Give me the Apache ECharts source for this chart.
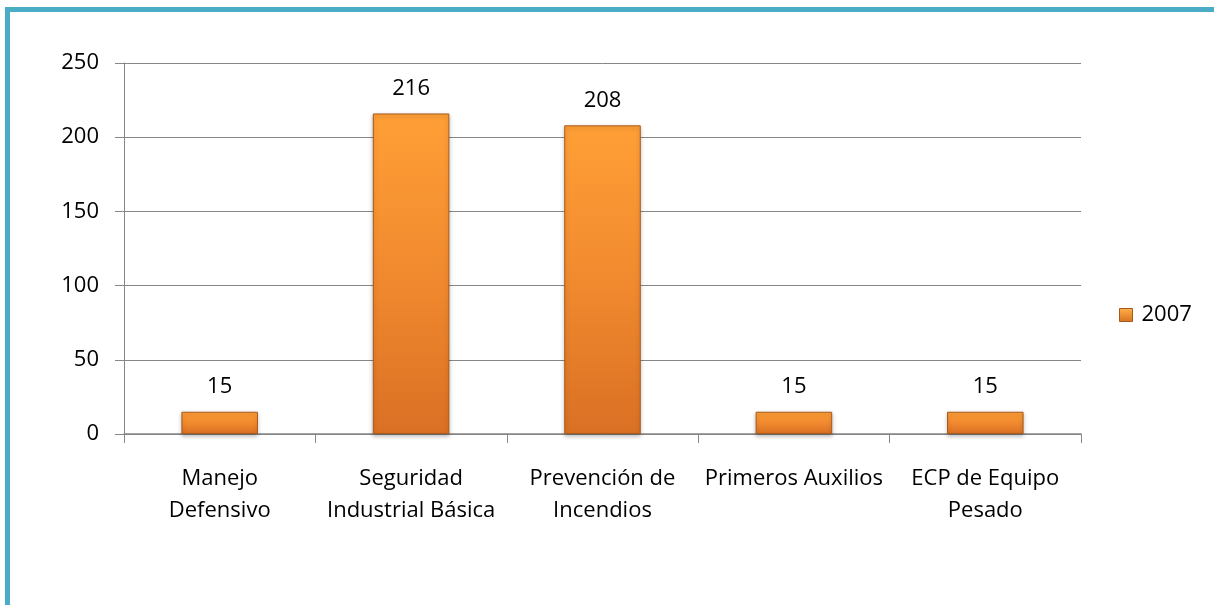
<!DOCTYPE html>
<html>
<head>
<meta charset="utf-8">
<script src="https://cdn.jsdelivr.net/npm/echarts@6/dist/echarts.min.js"></script>
<style>
html,body{margin:0;padding:0;background:#fff;}
#chart{width:1214px;height:605px;}
</style>
</head>
<body>
<div id="chart"></div>
<script>
const categories = ["Manejo\nDefensivo", "Seguridad\nIndustrial Básica", "Prevención de\nIncendios", "Primeros Auxilios", "ECP de Equipo\nPesado"];
const values2007 = [15, 216, 208, 15, 15];
const seriesName = "2007";
const yTicks = { min: 0, max: 250, interval: 50 };

const FONT = "Open Sans";
const chart = echarts.init(document.getElementById('chart'), null, { renderer: 'canvas' });

const barGradient = new echarts.graphic.LinearGradient(0, 0, 0, 1, [
  { offset: 0, color: '#FF9F36' },
  { offset: 0.5, color: '#F18A2F' },
  { offset: 1, color: '#DA7024' }
]);

chart.setOption({
  backgroundColor: '#ffffff',
  animation: false,
  graphic: [
    { type: 'rect', shape: { x: 5, y: 7, width: 1214, height: 5 }, style: { fill: '#4BACC6' }, silent: true },
    { type: 'rect', shape: { x: 5, y: 7, width: 5, height: 605 }, style: { fill: '#4BACC6' }, silent: true }
  ],
  grid: { left: 124, right: 133, top: 63, bottom: 171, containLabel: false },
  legend: {
    data: [seriesName],
    left: 1114,
    top: 299,
    orient: 'vertical',
    itemWidth: 13,
    itemHeight: 13,
    icon: 'rect',
    textStyle: { fontFamily: FONT, fontSize: 22, color: '#000', padding: [0, 0, 0, 4] },
    itemStyle: {
      borderColor: '#A85A1A', borderWidth: 1,
      color: new echarts.graphic.LinearGradient(0, 0, 0, 1, [
        { offset: 0, color: '#FFB24A' },
        { offset: 1, color: '#D8701F' }
      ])
    }
  },
  xAxis: {
    type: 'category',
    data: categories,
    axisLine: { lineStyle: { color: '#868686', width: 1.5 } },
    axisTick: { show: true, length: 9, lineStyle: { color: '#868686' }, alignWithLabel: false },
    axisLabel: {
      fontFamily: FONT, fontSize: 22, color: '#000', margin: 29, lineHeight: 32, interval: 0
    }
  },
  yAxis: {
    type: 'value',
    min: yTicks.min, max: yTicks.max, interval: yTicks.interval,
    axisLine: { show: true, lineStyle: { color: '#868686' } },
    axisTick: { show: true, length: 9, lineStyle: { color: '#868686' } },
    splitLine: { show: true, lineStyle: { color: '#868686', width: 1 } },
    axisLabel: { fontFamily: FONT, fontSize: 22, color: '#000', margin: 25, padding: [4, 0, 0, 0] }
  },
  series: [{
    name: seriesName,
    type: 'bar',
    data: values2007,
    barCategoryGap: '60%',
    itemStyle: {
      color: barGradient,
      borderColor: '#A85A1A',
      borderWidth: 1,
      shadowColor: 'rgba(0,0,0,0.25)',
      shadowBlur: 4,
      shadowOffsetY: 2
    },
    label: {
      show: true, position: 'top', distance: 14,
      fontFamily: FONT, fontSize: 22, color: '#000'
    }
  }]
});
</script>
</body>
</html>
